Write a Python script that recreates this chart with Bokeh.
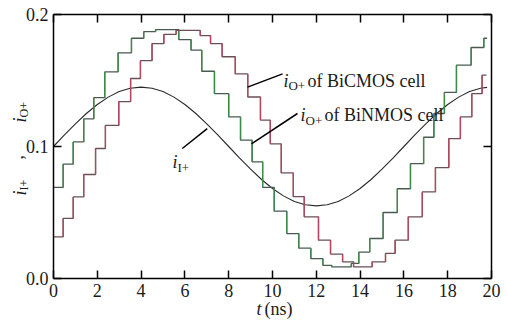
import math
from bokeh.plotting import figure
from bokeh.models import Label, LinearAxis, FixedTicker, Range1d, PrintfTickFormatter
from bokeh.embed import file_html
from bokeh.resources import INLINE

# ---- data ----
x_ticks = [0, 2, 4, 6, 8, 10, 12, 14, 16, 18, 20]
y_ticks = [0.0, 0.1, 0.2]

# input current i_I+ (sampled every 0.5 ns)
sine_t = [0, 0.5, 1, 1.5, 2, 2.5, 3, 3.5, 4, 4.5, 5, 5.5, 6, 6.5, 7, 7.5, 8, 8.5, 9, 9.5,
          10, 10.5, 11, 11.5, 12, 12.5, 13, 13.5, 14, 14.5, 15, 15.5, 16, 16.5, 17, 17.5,
          18, 18.5, 19, 19.5, 19.8]
sine_i = [0.100, 0.1088, 0.1172, 0.125, 0.1318, 0.1374, 0.1416, 0.1441, 0.145, 0.1441,
          0.1416, 0.1374, 0.1318, 0.125, 0.1172, 0.1088, 0.100, 0.0912, 0.0828, 0.075,
          0.0682, 0.0626, 0.0584, 0.0559, 0.055, 0.0559, 0.0584, 0.0626, 0.0682, 0.075,
          0.0828, 0.0912, 0.100, 0.1088, 0.1172, 0.125, 0.1318, 0.1374, 0.1416, 0.1441, 0.1448]

# i_O+ of BiCMOS cell (staircase: level holds from edge to next edge)
bicmos_t = [0, 0.44, 0.9, 1.38, 1.84, 2.34, 2.95, 3.56, 4.12, 4.66, 5.72, 6.28, 6.77, 7.35,
            8.0, 8.54, 9.07, 9.55, 10.08, 10.65, 11.2, 11.75, 12.3, 12.7, 13.6, 13.94, 14.44,
            15.05, 15.7, 16.3, 16.9, 17.37, 17.85, 18.4, 19.07, 19.65]
bicmos_i = [0.069, 0.0866, 0.1035, 0.121, 0.137, 0.1565, 0.171, 0.182, 0.187, 0.1886, 0.181,
            0.173, 0.157, 0.140, 0.1224, 0.1048, 0.0884, 0.069, 0.051, 0.034, 0.023, 0.015,
            0.010, 0.0088, 0.0114, 0.020, 0.0303, 0.050, 0.068, 0.087, 0.107, 0.125, 0.141,
            0.1616, 0.175, 0.182]
bicmos_end = 19.8

# i_O+ of BiNMOS cell
binmos_t = [0, 0.44, 0.9, 1.38, 1.92, 2.37, 2.98, 3.52, 3.97, 4.5, 5.04, 5.6, 6.7, 7.17, 7.7,
            8.3, 8.87, 9.45, 9.9, 10.4, 10.95, 11.45, 12.1, 12.65, 13.2, 13.7, 14.55, 15.16,
            15.6, 16.2, 16.84, 17.44, 18.05, 18.58, 19.1, 19.57]
binmos_i = [0.0315, 0.0455, 0.0618, 0.0788, 0.0985, 0.116, 0.134, 0.1515, 0.165, 0.178, 0.185,
            0.188, 0.184, 0.178, 0.168, 0.155, 0.1375, 0.12, 0.102, 0.080, 0.062, 0.0467, 0.029,
            0.0185, 0.0126, 0.0088, 0.0126, 0.019, 0.029, 0.0467, 0.0656, 0.084, 0.106, 0.1224,
            0.140, 0.154]
binmos_end = 19.77

# leader lines for the annotations (data coordinates: t0, v0 -> t1, v1)
lead_t0 = [8.86, 9.04, 5.88]
lead_v0 = [0.145, 0.102, 0.0985]
lead_t1 = [10.46, 11.14, 7.02]
lead_v1 = [0.155, 0.125, 0.1135]

SERIF = "Liberation Serif"

# ---- layout (pixels): canvas size and where the data box sits ----
W, H = 503, 320
BOX_L, BOX_R, BOX_T, BOX_B = 53, 491, 14, 278
X_MIN, X_MAX, Y_MIN, Y_MAX = 0, 20, 0.0, 0.2
sx = (BOX_R - BOX_L) / (X_MAX - X_MIN)
sy = (BOX_B - BOX_T) / (Y_MAX - Y_MIN)
x_range = Range1d(X_MIN - BOX_L / sx, X_MAX + (W - BOX_R) / sx)
y_range = Range1d(Y_MIN - (H - BOX_B) / sy, Y_MAX + BOX_T / sy)

p = figure(width=W, height=H, x_range=x_range, y_range=y_range,
           output_backend="svg", toolbar_location=None,
           x_axis_location=None, y_axis_location=None,
           min_border=0, min_border_left=0, min_border_right=0,
           min_border_top=0, min_border_bottom=0)
p.grid.visible = False
p.outline_line_color = None
p.background_fill_color = "white"
p.border_fill_color = "white"

def make_axis(ticks, loc, bounds, labels):
    ax = LinearAxis(ticker=FixedTicker(ticks=ticks), fixed_location=loc, bounds=bounds)
    ax.major_tick_in = 8
    ax.major_tick_out = 0
    ax.minor_tick_in = 0
    ax.minor_tick_out = 0
    ax.axis_line_width = 1.5
    ax.major_tick_line_width = 1.5
    ax.axis_line_color = "black"
    ax.major_tick_line_color = "black"
    ax.major_label_text_font = SERIF
    ax.major_label_text_font_size = "18px" if labels else "0px"
    ax.major_label_text_color = "#1a1a1a"
    ax.major_label_standoff = 5 if labels else 0
    return ax

bottom = make_axis(x_ticks, Y_MIN, (X_MIN, X_MAX), True)
p.add_layout(bottom, "below")
left = make_axis(y_ticks, X_MIN, (Y_MIN, Y_MAX), True)
left.formatter = PrintfTickFormatter(format="%.1f")
p.add_layout(left, "left")
top = make_axis(x_ticks, Y_MAX, (X_MIN, X_MAX), False)
p.add_layout(top, "above")
right = make_axis(y_ticks, X_MAX, (Y_MIN, Y_MAX), False)
p.add_layout(right, "right")

# sine input
p.line(sine_t, sine_i, line_color="#2a2a2a", line_width=1.1)

def staircase(ts, vs, end, base_col, vert_col):
    xs = ts + [end]
    ys = vs + [vs[-1]]
    p.step(xs, ys, mode="after", line_color=base_col, line_width=1.3)
    p.segment(ts[1:], vs[:-1], ts[1:], vs[1:], line_color=vert_col, line_width=1.3)

staircase(bicmos_t, bicmos_i, bicmos_end, "#4a5a50", "#3d8a4c")
staircase(binmos_t, binmos_i, binmos_end, "#6a4f55", "#b2475e")

p.segment(lead_t0, lead_v0, lead_t1, lead_v1, line_color="black", line_width=1.5)

def lab(x, y, text, size="18px", style="normal", xo=0, yo=0, angle=0.0,
        baseline="alphabetic"):
    p.add_layout(Label(x=x, y=y, text=text, x_offset=xo, y_offset=yo, angle=angle,
                       text_font=SERIF, text_font_size=size, text_font_style=style,
                       text_color="#1a1a1a", text_align="left", text_baseline=baseline))

# annotations
lab(10.5, 0.150, "i", style="italic")
lab(10.5, 0.150, "O+", size="13px", xo=5, yo=-5)
lab(10.5, 0.150, "of BiCMOS cell", xo=24)
lab(11.28, 0.1237, "i", style="italic")
lab(11.28, 0.1237, "O+", size="13px", xo=5, yo=-5)
lab(11.28, 0.1237, "of BiNMOS cell", xo=24)
lab(5.43, 0.088, "i", style="italic")
lab(5.43, 0.088, "I+", size="13px", xo=5, yo=-5)

# axis titles, placed by pixel position in the canvas (converted to data units)
def pix(px, py, text, **kw):
    lab(X_MIN + (px - BOX_L) / sx, Y_MIN + (BOX_B - py) / sy, text, **kw)

pix(256, 308, "t", size="18px", style="italic")
pix(264, 308, "(ns)", size="18px")

a = math.pi / 2
pix(19, 195, "i", size="18px", style="italic", angle=a, baseline="middle")
pix(23, 190, "I+", size="12px", angle=a, baseline="middle")
pix(16, 159, ",", size="18px", angle=a, baseline="alphabetic")
pix(19, 122, "i", size="18px", style="italic", angle=a, baseline="middle")
pix(23, 117, "O+", size="12px", angle=a, baseline="middle")

open("out.html", "w").write(file_html(p, INLINE))
